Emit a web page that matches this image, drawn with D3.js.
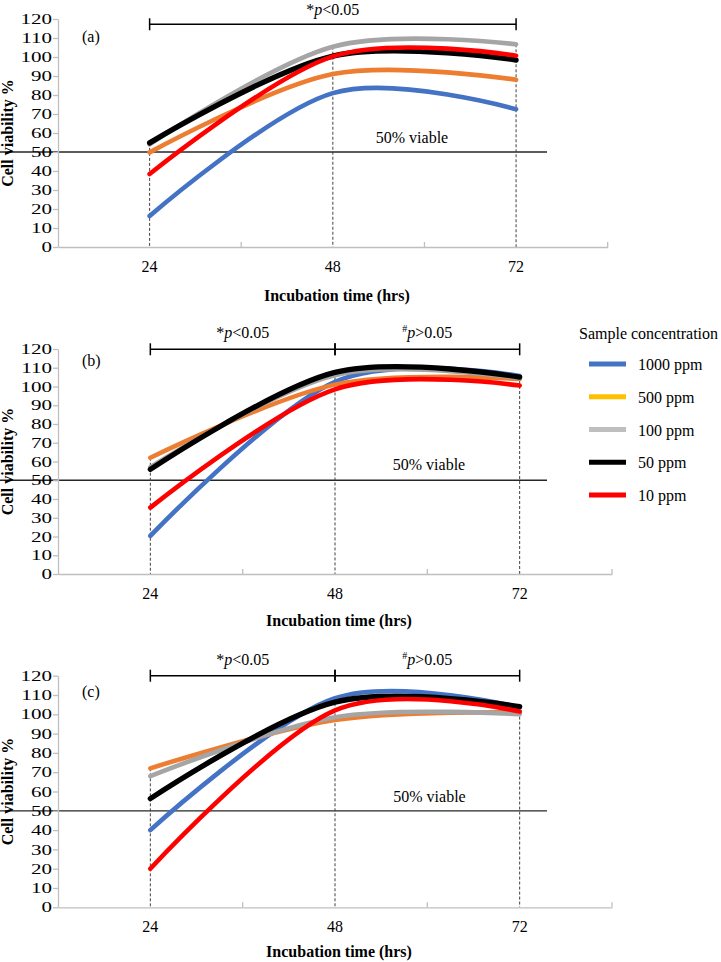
<!DOCTYPE html>
<html>
<head>
<meta charset="utf-8">
<script src="https://cdn.jsdelivr.net/npm/d3@7"></script>
<style>
  body { margin: 0; background: #fff; }
  svg { display: block; }
  svg text { font-family: "Liberation Serif", "Times New Roman", Times, serif; fill: #000; }
</style>
</head>
<body>
<svg id="chart" width="721" height="962"></svg>
<script>
// ---------------- data ----------------
const hours = ["24", "48", "72"];
const concentrations = ["1000 ppm", "500 ppm", "100 ppm", "50 ppm", "10 ppm"];
const yTicks = [0, 10, 20, 30, 40, 50, 60, 70, 80, 90, 100, 110, 120];
const threshold = 50;

// rows follow `concentrations`; columns follow `hours`
const viabilityA = [
  [16.3, 81.0, 72.5],
  [49.8, 91.0, 88.0],
  [54.0, 105.4, 106.7],
  [54.8, 100.5, 98.4],
  [38.4, 100.3, 100.7]
];
const viabilityB = [
  [20.3, 102.5, 105.6],
  [62.0, 101.0, 104.0],
  [57.0, 106.0, 104.5],
  [55.8, 107.5, 105.0],
  [35.4, 98.5, 100.5]
];
const viabilityC = [
  [40.0, 108.3, 103.5],
  [72.0, 97.0, 101.0],
  [68.0, 98.5, 100.0],
  [56.3, 106.3, 104.0],
  [20.0, 102.0, 101.4]
];

// significance brackets: [from hour, to hour, symbol, relation]
const bracketsA = [["24", "72", "*", "<"]];
const bracketsB = [["24", "48", "*", "<"], ["48", "72", "#", ">"]];
const bracketsC = [["24", "48", "*", "<"], ["48", "72", "#", ">"]];

// ---------------- styles ----------------
const lineColors = ["#4472C4", "#ED7D31", "#A5A5A5", "#000000", "#FF0000"];
const legendColors = ["#4472C4", "#FFC000", "#BFBFBF", "#000000", "#FF0000"];
const lineWidths = [4.6, 4.6, 4.6, 5.3, 4.6];
const axisGray = "#BFBFBF";
const yLabelStretch = 1.45;

// ---------------- layout ----------------
const panels = [
  { label: "(a)", data: viabilityA, brackets: bracketsA, top: 19, bottom: 247, left: 58, right: 607.7,
    bracketY: 24.3, bracketTextY: 14.5, labelY: 42, viableY: 143, viableX: 412, titleGap: 54 },
  { label: "(b)", data: viabilityB, brackets: bracketsB, top: 349, bottom: 574, left: 58, right: 612,
    bracketY: 349.3, bracketTextY: 337.5, labelY: 366, viableY: 470, viableX: 429, titleGap: 52 },
  { label: "(c)", data: viabilityC, brackets: bracketsC, top: 675.7, bottom: 907.3, left: 58, right: 612,
    bracketY: 675.7, bracketTextY: 665, labelY: 697, viableY: 801.5, viableX: 429.5, titleGap: 49.5 }
];

const svg = d3.select("#chart");

panels.forEach(p => {
  const g = svg.append("g");
  const y = d3.scaleLinear().domain([0, 120]).range([p.bottom, p.top]);
  const x = d3.scaleBand().domain(hours).range([p.left, p.right]).paddingInner(0).paddingOuter(0);
  const bw = x.bandwidth();
  const cx = h => x(h) + bw / 2;

  // 50% viable line
  g.append("line")
    .attr("x1", 0).attr("x2", 547)
    .attr("y1", y(threshold)).attr("y2", y(threshold))
    .attr("stroke", "#262626").attr("stroke-width", 1.3);
  g.append("text")
    .attr("x", p.viableX).attr("y", p.viableY)
    .attr("text-anchor", "middle").attr("font-size", 16)
    .text("50% viable");

  // drop lines (from highest value to axis)
  hours.forEach((h, i) => {
    const mx = d3.max(p.data, row => row[i]);
    g.append("line")
      .attr("x1", cx(h)).attr("x2", cx(h))
      .attr("y1", y(mx)).attr("y2", p.bottom)
      .attr("stroke", "#404040").attr("stroke-width", 1)
      .attr("stroke-dasharray", "3,2");
  });

  // y axis
  const yAxis = g.append("g")
    .attr("transform", `translate(${p.left},0)`)
    .call(d3.axisLeft(y).tickValues(yTicks).tickSize(5).tickSizeOuter(0).tickPadding(2));
  yAxis.select(".domain").attr("stroke", axisGray).attr("stroke-width", 1.3);
  yAxis.selectAll(".tick line").attr("stroke", axisGray).attr("stroke-width", 1.3);
  yAxis.selectAll(".tick text")
    .attr("font-size", 14.5)
    .attr("x", -6 / yLabelStretch)
    .attr("transform", `scale(${yLabelStretch},1)`)
    .attr("fill", "#000");

  // x axis
  const xAxis = g.append("g")
    .attr("transform", `translate(0,${p.bottom})`)
    .call(d3.axisBottom(x).tickSize(0).tickSizeOuter(0).tickPadding(13.5));
  xAxis.select(".domain").attr("stroke", axisGray).attr("stroke-width", 1.3);
  xAxis.selectAll(".tick text")
    .attr("font-size", 16)
    .attr("fill", "#000");
  // category boundary ticks (inside)
  const bounds = hours.map(h => x(h)).concat([x.range()[1]]);
  g.selectAll(".bound").data(bounds.slice(1)).enter().append("line")
    .attr("x1", d => d).attr("x2", d => d)
    .attr("y1", p.bottom).attr("y2", p.bottom - 5)
    .attr("stroke", axisGray).attr("stroke-width", 1.3);

  // axis titles
  g.append("text")
    .attr("x", (p.left + p.right) / 2 + 4).attr("y", p.bottom + p.titleGap)
    .attr("text-anchor", "middle").attr("font-size", 16).attr("font-weight", "bold")
    .text("Incubation time (hrs)");
  g.append("text")
    .attr("transform", `translate(13,${(p.top + p.bottom) / 2}) rotate(-90)`)
    .attr("text-anchor", "middle").attr("font-size", 16).attr("font-weight", "bold")
    .text("Cell viability %");

  // panel label
  g.append("text")
    .attr("x", 82).attr("y", p.labelY)
    .attr("font-size", 16)
    .text(p.label);

  // series lines
  const line = d3.line()
    .x((d, i) => cx(hours[i]))
    .y(d => y(d))
    .curve(d3.curveCardinal.tension(0));
  p.data.forEach((row, si) => {
    g.append("path")
      .datum(row)
      .attr("d", line)
      .attr("fill", "none")
      .attr("stroke", lineColors[si])
      .attr("stroke-width", lineWidths[si])
      .attr("stroke-linecap", "round")
      .attr("stroke-linejoin", "round");
  });

  // significance brackets
  p.brackets.forEach(([h0, h1, sym, rel]) => {
    const x0 = cx(h0), x1 = cx(h1);
    g.append("line")
      .attr("x1", x0).attr("x2", x1).attr("y1", p.bracketY).attr("y2", p.bracketY)
      .attr("stroke", "#000").attr("stroke-width", 1.5);
    [x0, x1].forEach(xx => {
      g.append("line")
        .attr("x1", xx).attr("x2", xx).attr("y1", p.bracketY - 6).attr("y2", p.bracketY + 6)
        .attr("stroke", "#000").attr("stroke-width", 1.5);
    });
    const t = g.append("text")
      .attr("x", (x0 + x1) / 2).attr("y", p.bracketTextY)
      .attr("text-anchor", "middle").attr("font-size", 16);
    if (sym === "#") {
      t.append("tspan").attr("font-size", 10).attr("dy", -6).text(sym);
      t.append("tspan").attr("font-style", "italic").attr("dy", 6).text("p");
    } else {
      t.append("tspan").text(sym);
      t.append("tspan").attr("font-style", "italic").text("p");
    }
    t.append("tspan").text(rel + "0.05");
  });
});

// ---------------- legend ----------------
const legend = svg.append("g");
legend.append("text")
  .attr("x", 579).attr("y", 339)
  .attr("font-size", 16)
  .text("Sample concentration");
const legendY = d3.scalePoint().domain(concentrations).range([364, 495]);
concentrations.forEach((c, i) => {
  legend.append("line")
    .attr("x1", 589).attr("x2", 626)
    .attr("y1", legendY(c)).attr("y2", legendY(c))
    .attr("stroke", legendColors[i]).attr("stroke-width", 5);
  legend.append("text")
    .attr("x", 638).attr("y", legendY(c) + 6)
    .attr("font-size", 16)
    .text(c);
});
</script>
</body>
</html>
